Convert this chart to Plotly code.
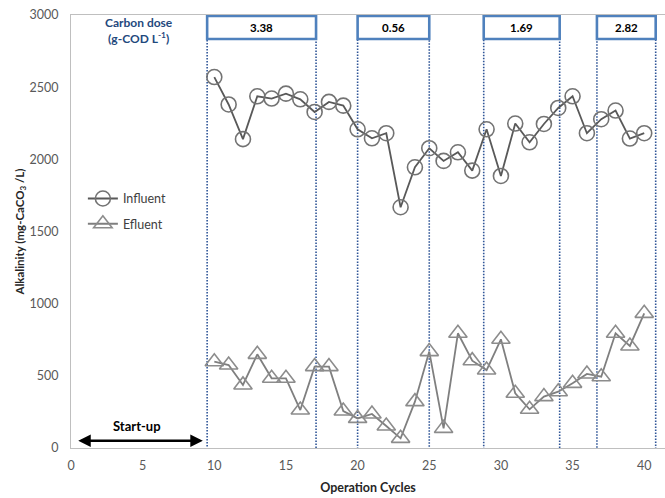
import plotly.graph_objects as go

cycles = list(range(10, 41))
influent = [2570, 2380, 2140, 2437, 2421, 2455, 2416, 2328, 2398, 2372,
            2208, 2146, 2181, 1668, 1945, 2077, 1989, 2049, 1922, 2208,
            1885, 2248, 2118, 2245, 2356, 2437, 2181, 2278, 2338, 2144, 2181]
efluent = [598, 575, 437, 649, 483, 483, 263, 564, 564, 256,
           205, 236, 152, 67, 321, 668, 136, 795, 605, 540,
           753, 379, 268, 356, 390, 448, 513, 494, 795, 707, 933]

period_start = [9.5, 20.0, 28.8, 36.7]
period_end = [17.1, 25.0, 34.1, 40.8]
doses = ["3.38", "0.56", "1.69", "2.82"]

FONT = "Lato"
fig = go.Figure()
fig.add_trace(go.Scatter(
    x=cycles, y=influent, mode="lines+markers", name="Influent", legendgroup="a",
    line=dict(color="#595959", width=1.8),
    marker=dict(symbol="circle-open", size=15, color="#737373", line=dict(width=1.6))))
fig.add_trace(go.Scatter(
    x=cycles, y=efluent, mode="lines+markers", name="Efluent", legendgroup="b",
    line=dict(color="#7f7f7f", width=1.8),
    marker=dict(symbol="triangle-up-open", size=16, color="#8c8c8c", line=dict(width=1.6))))

shapes = []
annotations = []
for s, e, d in zip(period_start, period_end, doses):
    shapes.append(dict(type="rect", xref="x", yref="y", x0=s, x1=e, y0=-15, y1=2834,
                       line=dict(color="#2f5597", width=1.6, dash="1.5px,1.5px"), layer="below"))
    shapes.append(dict(type="rect", xref="x", yref="y", x0=s, x1=e, y0=2834, y1=2993,
                       line=dict(color="#4f81bd", width=2.6), fillcolor="white"))
    annotations.append(dict(x=(s + e) / 2, y=2913, xref="x", yref="y", text="<b>" + d + "</b>",
                            showarrow=False, font=dict(family=FONT, size=11.5, color="#000000")))

annotations.append(dict(x=4.75, y=2895, xref="x", yref="y",
                        text="<b>Carbon dose</b><br><b>(g-COD L<sup>-1</sup>)</b>",
                        showarrow=False, font=dict(family=FONT, size=12, color="#1f497d"),
                        align="center"))
annotations.append(dict(x=4.6, y=155, xref="x", yref="y", text="<b>Start-up</b>",
                        showarrow=False, font=dict(family=FONT, size=13, color="#000000")))
annotations.append(dict(x=9.2, y=50, ax=0.4, ay=50, xref="x", yref="y", axref="x", ayref="y",
                        text="", showarrow=True, arrowhead=2, arrowside="end+start",
                        arrowsize=1, arrowwidth=2.5, arrowcolor="#000000"))

fig.update_layout(
    width=665, height=498,
    margin=dict(l=71, r=0, t=15, b=50),
    paper_bgcolor="white", plot_bgcolor="white",
    font=dict(family=FONT, size=12.5, color="#595959"),
    shapes=shapes, annotations=annotations,
    legend=dict(x=0.02, y=0.61, xanchor="left", yanchor="top", bgcolor="rgba(0,0,0,0)",
                font=dict(family=FONT, size=12.5, color="#404040"),
                tracegroupgap=6, itemwidth=30, traceorder="grouped"),
    xaxis=dict(range=[0, 41.45], tickvals=[0, 5, 10, 15, 20, 25, 30, 35, 40],
               showgrid=False, zeroline=False, showline=True, linecolor="#bfbfbf",
               linewidth=1, mirror=True, ticks="", ticklabelstandoff=6,
               tickfont=dict(size=12.5, color="#595959"),
               title=dict(text="<b>Operation Cycles</b>", standoff=11,
                          font=dict(family=FONT, size=12.5, color="#262626"))),
    yaxis=dict(range=[0, 3000], tickvals=[0, 500, 1000, 1500, 2000, 2500, 3000],
               showgrid=False, zeroline=False, showline=True, linecolor="#bfbfbf",
               linewidth=1, ticks="", ticklabelstandoff=9,
               tickfont=dict(size=12.5, color="#595959"),
               title=dict(text="<b>Alkalinity (mg-CaCO<sub>3</sub> /L)</b>", standoff=2,
                          font=dict(family=FONT, size=11.5, color="#262626"))),
)

fig.write_html("out.html")
